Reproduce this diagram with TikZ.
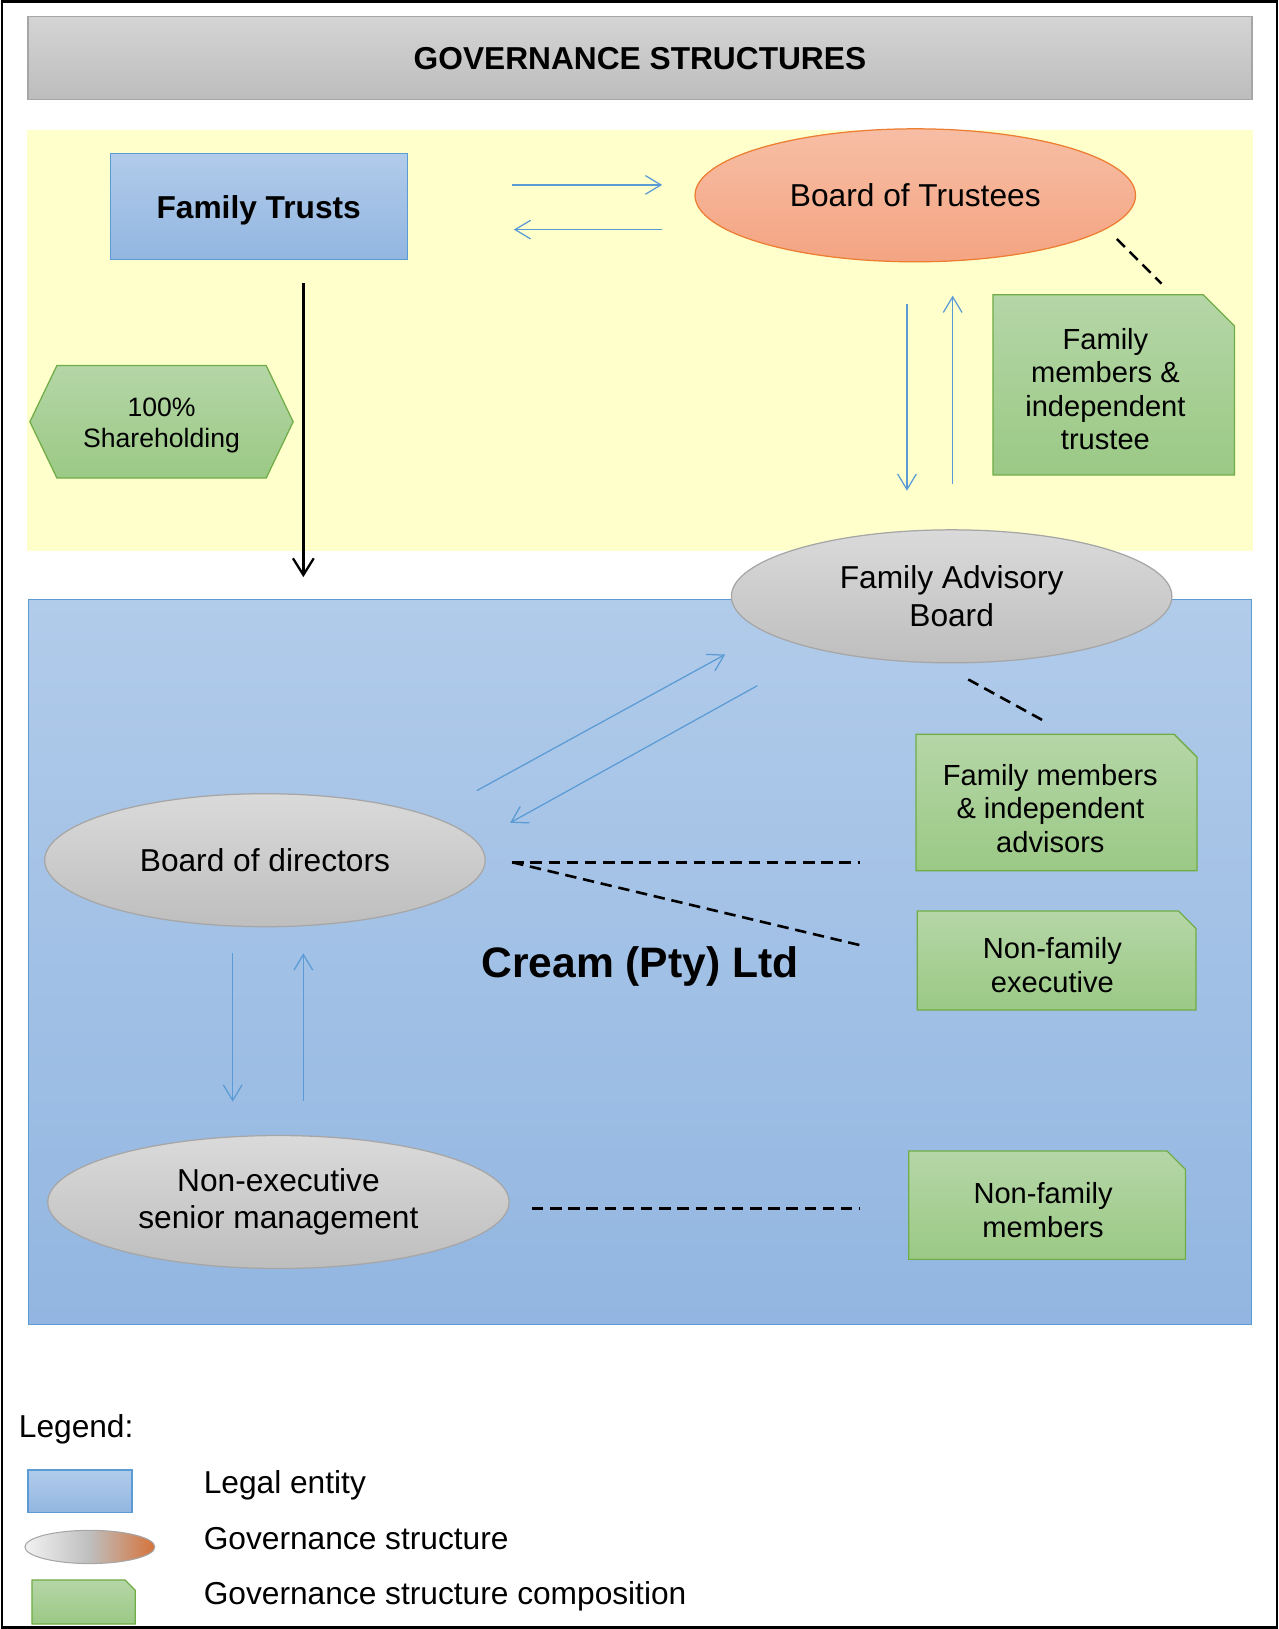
\documentclass[tikz,border=0pt]{standalone}
\usepackage{fontspec}
\setmainfont{Liberation Sans}
\usetikzlibrary{shapes.geometric,arrows.meta}
\pgfdeclarelayer{bg}
\pgfdeclarelayer{mid}
\pgfsetlayers{bg,mid,main}
\definecolor{yel}{HTML}{FFFFCC}
\definecolor{bluetop}{HTML}{B1CBEA}
\definecolor{bluebot}{HTML}{92B6E1}
\definecolor{blueline}{HTML}{5B9BD5}
\definecolor{orgtop}{HTML}{F7BEA5}
\definecolor{orgbot}{HTML}{F4A482}
\definecolor{orgline}{HTML}{ED7D31}
\definecolor{graytop}{HTML}{DADADA}
\definecolor{graybot}{HTML}{BEBEBE}
\definecolor{grayline}{HTML}{A6A6A6}
\definecolor{grntop}{HTML}{B5D6A7}
\definecolor{grnbot}{HTML}{9BC985}
\definecolor{grnline}{HTML}{70AD47}
\definecolor{titletop}{HTML}{D4D4D4}
\definecolor{titlebot}{HTML}{BDBDBD}
\definecolor{legorg}{HTML}{D6733A}
\definecolor{legwhite}{HTML}{F2F2F2}
\newcommand\fbig{\fontsize{30.5}{36}\selectfont}
\newcommand\fgrn{\fontsize{28}{32.3}\selectfont}
\newcommand\fhex{\fontsize{25.6}{30}\selectfont}
\newcommand\fcream{\fontsize{41}{48}\selectfont}
\tikzset{
  grnshade/.style={top color=grntop, bottom color=grnbot, draw=grnline, line width=1.2pt},
  docnode/.style={rectangle, inner sep=0pt, font=\fgrn, align=center},
  govell/.style={ellipse, inner sep=0pt, minimum width=424pt, minimum height=128pt, top color=graytop, bottom color=graybot, draw=grayline, line width=1.2pt, font=\fbig, align=center},
  legal/.style={rectangle, inner sep=0pt, top color=bluetop, bottom color=bluebot, draw=blueline, line width=1.2pt},
  barrow/.style={draw=blueline, line width=1.2pt, -{Straight Barb[length=15pt,width=18pt]}},
  karrow/.style={draw=black, line width=2.2pt, -{Straight Barb[length=16pt,width=20pt]}},
  dline/.style={draw=black, line width=2.5pt, dash pattern=on 11pt off 6.5pt},
  legtext/.style={anchor=base west, font=\fbig, inner sep=0pt},
}
% #1 node, #2 corner, #3 xshift, #4 yshift
\newcommand\gdocshape[4]{%
  \begin{pgfonlayer}{mid}
  \shade[grnshade] ([xshift=#3,yshift=#4]#1.south west) -- ([xshift=#3,yshift=#4]#1.north west)
    -- ([xshift=#3-#2,yshift=#4]#1.north east) -- ([xshift=#3,yshift=#4-#2]#1.north east)
    -- ([xshift=#3,yshift=#4]#1.south east) -- cycle;
  \end{pgfonlayer}}
\begin{document}
\begin{tikzpicture}[x=1pt,y=-1pt]
\useasboundingbox (0,0) rectangle (1231,1568);

\begin{pgfonlayer}{bg}
  \fill[yel] (26,125) rectangle (1206,530);
  \node[legal, minimum width=1178pt, minimum height=698pt, line width=1pt, font=\fcream\bfseries, text height=30pt, text depth=0pt] (cream) at (616,926) {Cream (Pty) Ltd};
\end{pgfonlayer}

% title
\node[rectangle, minimum width=1178pt, minimum height=80pt, top color=titletop, bottom color=titlebot, draw=grayline, line width=1.2pt, font=\fbig\bfseries] (title) at (616,56) {GOVERNANCE STRUCTURES};

% top region
\node[legal, minimum width=286pt, minimum height=102pt, font=\fbig\bfseries, text height=22pt, text depth=0pt] (ft) at (249,199) {Family Trusts};
\node[govell, top color=orgtop, bottom color=orgbot, draw=orgline] (bot) at (881,188) {Board of Trustees};

\node[rectangle, inner sep=0pt, minimum width=253pt, minimum height=108pt, font=\fhex, align=center] (hexa) at (155.5,409.5) {100\%\\Shareholding};
\begin{pgfonlayer}{mid}
  \shade[grnshade] ([yshift=3.5pt]hexa.west) -- ([xshift=26pt,yshift=3.5pt]hexa.north west) -- ([xshift=-26pt,yshift=3.5pt]hexa.north east)
    -- ([yshift=3.5pt]hexa.east) -- ([xshift=-26pt,yshift=3.5pt]hexa.south east) -- ([xshift=26pt,yshift=3.5pt]hexa.south west) -- cycle;
\end{pgfonlayer}

\node[docnode, minimum width=232pt, minimum height=173pt] (gd1) at (1064,374.5) {Family\\members \&\\independent\\trustee};
\gdocshape{gd1}{30pt}{8pt}{4pt}

% ellipses
\node[govell] (fab) at (916,574) {Family Advisory\\Board};
\node[govell] (bod) at (255,828) {Board of directors};
\node[govell, minimum width=444pt] (nesm) at (268,1157) {Non-executive\\senior management};

% green docs
\node[docnode, minimum width=270pt, minimum height=131pt] (gd2) at (1011,778) {Family members\\\& independent\\advisors};
\gdocshape{gd2}{22pt}{6pt}{5.5pt}
\node[docnode, minimum width=268pt, minimum height=95pt] (gd3) at (1013,929) {Non-family\\executive};
\gdocshape{gd3}{17pt}{4pt}{4.5pt}
\node[docnode, minimum width=266pt, minimum height=104pt] (gd4) at (1004,1165) {Non-family\\members};
\gdocshape{gd4}{18pt}{4pt}{5pt}

% connectors
\draw[barrow, shorten <=100pt, shorten >=31pt] (ft.east |- 0,178) -- (bot.west |- 0,178);
\draw[barrow, shorten <=31pt, shorten >=102pt] (bot.west |- 0,221) -- (ft.east |- 0,221);
\draw[barrow, shorten <=40pt, shorten >=37pt] (bot.south -| 873,0) -- (fab.north -| 873,0);
\draw[barrow, shorten <=44pt, shorten >=32pt] (fab.north -| 917,0) -- (bot.south -| 917,0);
\draw[karrow, shorten <=22pt, shorten >=21pt] (ft.south -| 292,0) -- (cream.north -| 292,0);

\coordinate (bodUp) at (459,761);
\coordinate (fabIn) at (698,630);
\coordinate (fabOut) at (729,660);
\coordinate (bodIn) at (491,792);
\draw[barrow] (bodUp) -- (fabIn);
\draw[barrow] (fabOut) -- (bodIn);

\draw[barrow, shorten <=25pt, shorten >=32pt] (bod.south -| 224,0) -- (nesm.north -| 224,0);
\draw[barrow, shorten <=33pt, shorten >=25pt] (nesm.north -| 292,0) -- (bod.south -| 292,0);

\coordinate (botD) at (1075,230);
\coordinate (gd1D) at (1118,273);
\draw[dline] (botD) -- (gd1D);
\coordinate (fabD) at (932,654);
\coordinate (gd2D) at (1005,694);
\draw[dline] (fabD) -- (gd2D);
\coordinate (bodD) at (493,830);
\coordinate (gd2L) at (828,830);
\coordinate (gd3L) at (833,911);
\draw[dline] (bodD) -- (gd2L);
\draw[dline] (bodD) -- (gd3L);
\coordinate (nesmD) at (512,1163);
\coordinate (gd4L) at (828,1163);
\draw[dline] (nesmD) -- (gd4L);

% legend
\node[legtext] (legtitle) at (18,1384) {Legend:};
\node[legal, minimum width=100pt, minimum height=41pt] (leg1) at (77,1435.5) {};
\node[legtext] (leg1t) at (196,1438) {Legal entity};
\node[ellipse, inner sep=0pt, minimum width=125pt, minimum height=32pt, left color=legwhite, right color=legorg, middle color=graybot, draw=grayline, line width=1pt] (leg2) at (86.5,1489) {};
\node[legtext] (leg2t) at (196,1491) {Governance structure};
\node[docnode, minimum width=99pt, minimum height=42pt] (leg3) at (80.5,1542) {};
\gdocshape{leg3}{10pt}{0pt}{0pt}
\node[legtext] (leg3t) at (196,1544) {Governance structure composition};

% outer frame
\draw[line width=2.5pt] (2,1.5) rectangle (1229,1566.5);
\end{tikzpicture}
\end{document}
